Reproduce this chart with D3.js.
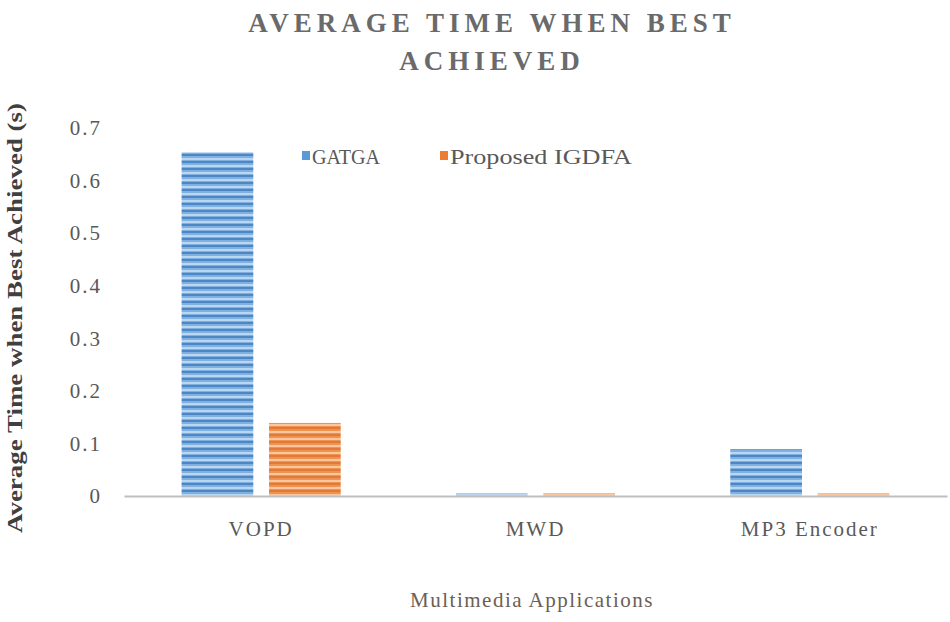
<!DOCTYPE html>
<html>
<head>
<meta charset="utf-8">
<script src="https://cdn.jsdelivr.net/npm/d3@7"></script>
<style>
  body { margin: 0; background: #fff; }
  svg { display: block; }
</style>
</head>
<body>
<svg id="chart" width="950" height="622"></svg>
<script>
const categories = ["VOPD", "MWD", "MP3 Encoder"];
const seriesNames = ["GATGA", "Proposed IGDFA"];
const gatga = [0.654, 0.005, 0.089];
const proposed = [0.139, 0.005, 0.005];
const yTicks = [0, 0.1, 0.2, 0.3, 0.4, 0.5, 0.6, 0.7];

const svg = d3.select("#chart");
const serif = "'Liberation Serif', 'DejaVu Serif', serif";
const textColor = "#595959";
const plotBottom = 496;

const x0 = d3.scaleBand().domain(categories).range([124, 947]).paddingInner(0.42).paddingOuter(0.21);
const x1 = d3.scaleBand().domain(seriesNames).range([0, x0.bandwidth()]).paddingInner(0.18).paddingOuter(0);
const y = d3.scaleLinear().domain([0, 0.7]).range([plotBottom, 128]);

// patterns
const defs = svg.append("defs");
function stripePattern(id, base, dark, light) {
  const p = defs.append("pattern").attr("id", id).attr("patternUnits", "userSpaceOnUse")
    .attr("width", 10).attr("height", 7);
  p.append("rect").attr("width", 10).attr("height", 7).attr("fill", base);
  p.append("rect").attr("y", 0).attr("width", 10).attr("height", 2).attr("fill", dark);
  p.append("rect").attr("y", 4).attr("width", 10).attr("height", 2).attr("fill", light);
}
stripePattern("pBlue", "#7fb0e0", "#4d86c4", "#b9d6f2");
stripePattern("pOrange", "#f0934f", "#e0793a", "#f9c8a0");
const fills = ["url(#pBlue)", "url(#pOrange)"];
const legendColors = ["#5b9bd5", "#ed7d31"];

// title
const title = svg.append("text").attr("text-anchor", "middle")
  .attr("font-family", serif).attr("font-weight", "bold").attr("font-size", 27)
  .attr("letter-spacing", 5).attr("fill", "#6a6a6a");
title.append("tspan").attr("x", 492).attr("y", 32).text("AVERAGE  TIME WHEN BEST");
title.append("tspan").attr("x", 492).attr("y", 70).text("ACHIEVED");

// y axis ticks (labels only)
const yAxis = d3.axisLeft(y).tickValues(yTicks).tickSize(0).tickPadding(0)
  .tickFormat(d => d === 0 ? "0" : d3.format(".1f")(d));
const gy = svg.append("g").attr("transform", "translate(102,0)").call(yAxis);
gy.select(".domain").remove();
gy.selectAll("text").attr("font-family", serif).attr("font-size", 21)
  .attr("letter-spacing", 2).attr("fill", textColor);

// bars
const data = categories.map((c, i) => ({ cat: c, vals: [gatga[i], proposed[i]] }));
const groups = svg.append("g").selectAll("g").data(data).join("g")
  .attr("transform", d => `translate(${x0(d.cat)},0)`);
groups.selectAll("rect").data(d => d.vals.map((v, j) => ({ v, j })))
  .join("rect")
  .attr("x", d => x1(seriesNames[d.j]))
  .attr("width", x1.bandwidth())
  .attr("y", d => y(d.v))
  .attr("height", d => plotBottom - y(d.v))
  .attr("fill", d => fills[d.j]);

// x axis
const xAxis = d3.axisBottom(x0).tickSize(0).tickPadding(25);
const gx = svg.append("g").attr("transform", `translate(0,${plotBottom})`).call(xAxis);
gx.select(".domain").attr("stroke", "#bfbfbf").attr("stroke-width", 2);
gx.selectAll("text").attr("font-family", serif).attr("font-size", 21)
  .attr("letter-spacing", 2).attr("fill", textColor);

// legend
const legend = svg.append("g");
const legendItems = [{ x: 302, name: "GATGA", w: 68 }, { x: 440, name: "Proposed IGDFA", w: 182 }];
legendItems.forEach((it, i) => {
  legend.append("rect").attr("x", it.x).attr("y", 151).attr("width", 8).attr("height", 9).attr("fill", legendColors[i]);
  legend.append("text").attr("x", it.x + 10).attr("y", 164).attr("font-family", serif)
    .attr("font-size", 20).attr("fill", textColor)
    .attr("textLength", it.w).attr("lengthAdjust", "spacingAndGlyphs").text(it.name);
});

// axis titles
svg.append("text").attr("transform", "translate(22,318) rotate(-90)").attr("text-anchor", "middle")
  .attr("font-family", serif).attr("font-weight", "bold").attr("font-size", 20)
  .attr("textLength", 430).attr("lengthAdjust", "spacingAndGlyphs")
  .attr("fill", "#404040").text("Average Time when Best Achieved (s)");
svg.append("text").attr("x", 532).attr("y", 607).attr("text-anchor", "middle")
  .attr("font-family", serif).attr("font-size", 21).attr("letter-spacing", 1.5)
  .attr("fill", "#6b6055").text("Multimedia Applications");
</script>
</body>
</html>
